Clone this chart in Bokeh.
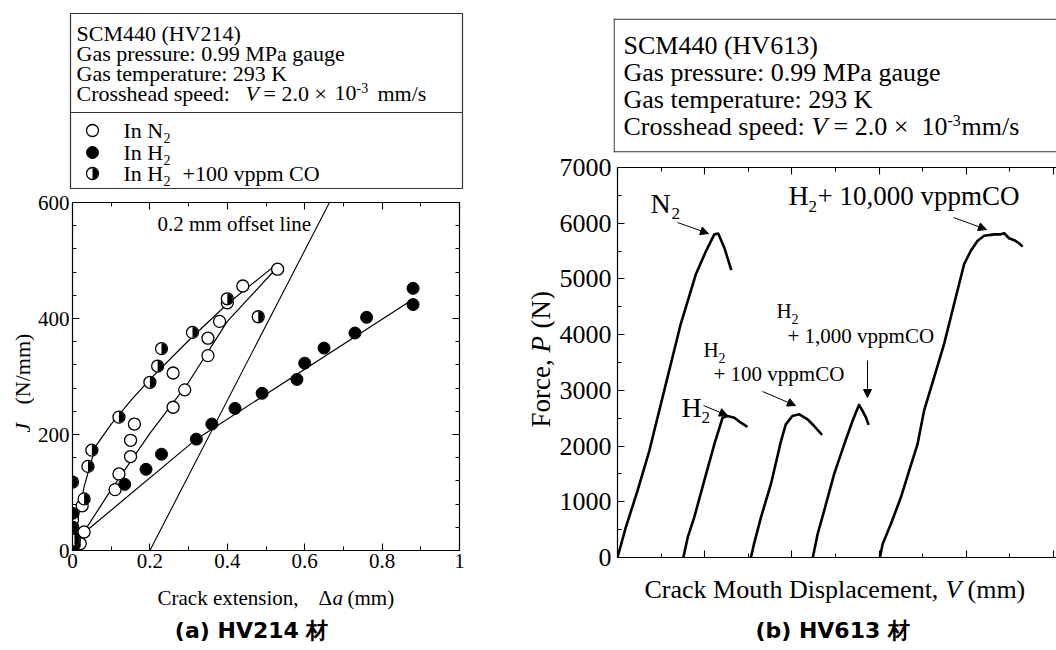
import math
from bokeh.plotting import figure
from bokeh.layouts import row, column
from bokeh.models import (Range1d, LinearAxis, SingleIntervalTicker, CustomJSTickFormatter,
                          Label, Arrow, NormalHead)
from bokeh.embed import file_html
from bokeh.resources import INLINE

# ---------------- data: (a) HV214, J vs crack extension ----------------
n2_da = [0.0, 0.0, 0.0, 0.02, 0.025, 0.03, 0.11, 0.12, 0.15, 0.15, 0.16, 0.26, 0.26, 0.29, 0.35, 0.35, 0.38, 0.40, 0.44, 0.53]
n2_j = [52, 40, 20, 12, 77, 32, 105, 132, 162, 190, 218, 247, 306, 277, 336, 366, 395, 427, 456, 485]

h2_da = [0.0, 0.0, 0.005, 0.135, 0.19, 0.23, 0.32, 0.36, 0.42, 0.49, 0.58, 0.60, 0.65, 0.73, 0.76, 0.88, 0.88]
h2_j = [64, 24, 10, 114, 140, 166, 192, 218, 245, 271, 295, 323, 349, 375, 402, 424, 452]

co_da = [0.0, 0.0, 0.005, 0.03, 0.04, 0.05, 0.12, 0.20, 0.22, 0.23, 0.31, 0.40, 0.48]
co_j = [118, 40, 18, 89, 145, 173, 230, 290, 318, 348, 376, 434, 403]

fit_co_da = [0.0, 0.01, 0.03, 0.06, 0.10, 0.15, 0.20, 0.30, 0.40, 0.53]
fit_co_j = [5, 40, 110, 180, 218, 258, 295, 362, 425, 495]
fit_n2_da = [0.015, 0.10, 0.20, 0.30, 0.40, 0.533]
fit_n2_j = [17, 105, 202, 290, 395, 491]
fit_h2_da = [0.02, 0.32, 0.88]
fit_h2_j = [25, 192, 433]
offset_da = [0.2, 0.664]
offset_j = [0, 600]

# ---------------- data: (b) HV613, force vs crack mouth displacement ----------------
v_n2 = [0, 0.19, 0.46, 0.73, 1.07, 1.45, 1.80, 2.03, 2.22, 2.31, 2.45, 2.61]
p_n2 = [0, 540, 1200, 1915, 2990, 4190, 5090, 5500, 5800, 5815, 5560, 5160]
v_h2 = [1.51, 1.61, 1.76, 1.99, 2.22, 2.41, 2.52, 2.68, 2.83, 2.98]
p_h2 = [0, 360, 720, 1380, 2030, 2510, 2540, 2510, 2420, 2345]
v_co100 = [3.06, 3.13, 3.29, 3.52, 3.75, 3.86, 4.01, 4.17, 4.36, 4.51, 4.69]
p_co100 = [0, 240, 720, 1320, 2090, 2390, 2540, 2570, 2480, 2360, 2200]
v_co1000 = [4.48, 4.59, 4.74, 4.97, 5.20, 5.39, 5.54, 5.62, 5.70, 5.76]
p_co1000 = [0, 420, 840, 1500, 2030, 2450, 2740, 2630, 2510, 2380]
v_co10000 = [6.02, 6.08, 6.27, 6.50, 6.69, 6.88, 7.03, 7.26, 7.49, 7.72, 7.95, 8.10, 8.26,
             8.41, 8.64, 8.79, 8.87, 8.98, 9.10, 9.21, 9.29]
p_co10000 = [0, 240, 600, 1080, 1560, 2030, 2630, 3230, 3830, 4550, 5265, 5500, 5685,
             5775, 5800, 5800, 5820, 5730, 5695, 5640, 5580]

left_info = ["SCM440 (HV214)", "Gas pressure: 0.99 MPa gauge", "Gas temperature: 293 K"]
right_info = ["SCM440 (HV613)", "Gas pressure: 0.99 MPa gauge", "Gas temperature: 293 K"]

SERIF = "Liberation Serif"
SANS = "DejaVu Sans"
INK = "black"
BOX = "#333333"
MID = 0.34  # em offset between the alphabetic baseline and the middle of the text


def lab(p, conv, px, py, text, size, style="normal", align="left", font=SERIF):
    """Text whose alphabetic baseline sits at page position (px, py)."""
    x, y = conv(px, py - MID * size)
    p.add_layout(Label(x=x, y=y, text=text, text_font=font, text_font_size=f"{size}px",
                       text_font_style=style, text_align=align, text_baseline="middle",
                       text_color=INK))


def vlab(p, conv, px, py, text, size, style="normal"):
    """Text rotated to read upwards, centred on page column px, starting at page row py."""
    x, y = conv(px, py)
    p.add_layout(Label(x=x, y=y, text=text, text_font=SERIF, text_font_size=f"{size}px",
                       text_font_style=style, text_align="left", text_baseline="middle",
                       angle=math.pi / 2, text_color=INK))


def axis(ticker, labeled, size=21, standoff=4, formatter=None):
    ax = LinearAxis(ticker=ticker, major_tick_in=7, major_tick_out=0, minor_tick_in=4,
                    minor_tick_out=0, axis_line_color=INK, axis_line_width=1.2,
                    major_tick_line_color=INK, minor_tick_line_color=INK,
                    major_tick_line_width=1.1, minor_tick_line_width=1.0)
    if labeled:
        ax.major_label_text_font = SERIF
        ax.major_label_text_font_size = f"{size}px"
        ax.major_label_text_color = INK
        ax.major_label_standoff = standoff
        if formatter is not None:
            ax.formatter = formatter
    else:
        ax.formatter = CustomJSTickFormatter(code="return ''")
        ax.major_label_text_font_size = "0px"
        ax.major_label_standoff = 0
    return ax


def half_marker(p, xs, ys, r=6):
    p.scatter(xs, ys, marker="circle", size=2 * r, fill_color="white", line_color=INK, line_width=1.3)
    p.wedge(x=xs, y=ys, radius=r - 0.5, radius_units="screen", start_angle=-math.pi / 2,
            end_angle=math.pi / 2, fill_color=INK, line_color=None)


def tfig(ox, oy, w, h, left=2, right=2, top=2, bottom=2):
    """Figure whose frame coordinates are page pixels offset by the frame origin."""
    fw, fh = w - left - right, h - top - bottom
    f = figure(width=w, height=h, x_range=Range1d(0, fw), y_range=Range1d(fh, 0),
               x_axis_type=None, y_axis_type=None, title=None, toolbar_location=None,
               output_backend="svg", min_border_left=left, min_border_right=right,
               min_border_top=top, min_border_bottom=bottom)
    f.outline_line_color = None
    fx, fy = ox + left, oy + top
    return f, (lambda px, py: (px - fx, py - fy)), fw, fh


# ======================= (a) legend box: page x 0..518, y 0..190 =======================
legL, LL, lw, lh = tfig(0, 0, 518, 190, left=70, right=56, top=13, bottom=2)
legL.outline_line_color = BOX
legL.outline_line_width = 1.2

for i, t in enumerate(left_info):
    lab(legL, LL, 76, 40 + 20 * i, t, 22)
lab(legL, LL, 76, 100, "Crosshead speed:", 22)
lab(legL, LL, 245, 100, "V", 22, style="italic")
lab(legL, LL, 263, 100, "= 2.0 \u00d7", 22)
lab(legL, LL, 334, 100, "10", 22)
lab(legL, LL, 356, 92, "-3", 14)
lab(legL, LL, 377, 100, "mm/s", 22)
legL.line([0, lw], [LL(0, 112)[1]] * 2, line_color=BOX, line_width=1.2)

mx = LL(92, 0)[0]
legL.scatter([mx], [LL(0, 130)[1]], marker="circle", size=12, fill_color="white", line_color=INK, line_width=1.3)
legL.scatter([mx], [LL(0, 152)[1]], marker="circle", size=12, fill_color=INK, line_color=INK)
half_marker(legL, [mx], [LL(0, 173)[1]])
lab(legL, LL, 123, 137, "In N", 22)
lab(legL, LL, 163, 142, "2", 14)
lab(legL, LL, 123, 159, "In H", 22)
lab(legL, LL, 163, 164, "2", 14)
lab(legL, LL, 123, 180, "In H", 22)
lab(legL, LL, 163, 185, "2", 14)
lab(legL, LL, 182, 180, "+100 vppm CO", 22)

# ======================= (a) y label strip: page x 0..34, y 190..580 =======================
yLabL, YL, _, _ = tfig(0, 190, 34, 390, left=0, right=0, top=12, bottom=30)
vlab(yLabL, YL, 22, 432, "J", 22, style="italic")
vlab(yLabL, YL, 22, 404, "(N/mm)", 22)

# ======================= (a) plot: page x 34..518, y 190..580 =======================
FX0, FX1, FY0, FY1 = 72, 459, 202, 550
pL = figure(width=484, height=390, x_range=Range1d(0, 1), y_range=Range1d(0, 600),
            x_axis_type=None, y_axis_type=None, title=None, toolbar_location=None,
            output_backend="svg", min_border_left=38, min_border_right=59,
            min_border_top=12, min_border_bottom=30)
pL.outline_line_color = None


def L(px, py):
    return (px - FX0) / (FX1 - FX0), (FY1 - py) / (FY1 - FY0) * 600


xt = SingleIntervalTicker(interval=0.2, num_minor_ticks=2)
yt = SingleIntervalTicker(interval=200, num_minor_ticks=5)
pL.add_layout(axis(xt, True, 21, 3, CustomJSTickFormatter(code="return String(Math.round(tick*10)/10)")), "below")
pL.add_layout(axis(yt, True, 21, 3), "left")
pL.add_layout(axis(xt, False), "above")
pL.add_layout(axis(yt, False), "right")

pL.line(offset_da, offset_j, line_color=INK, line_width=1.1)
pL.line(fit_co_da, fit_co_j, line_color=INK, line_width=1.2)
pL.line(fit_n2_da, fit_n2_j, line_color=INK, line_width=1.2)
pL.line(fit_h2_da, fit_h2_j, line_color=INK, line_width=1.2)

pL.scatter(n2_da, n2_j, marker="circle", size=12, fill_color="white", line_color=INK, line_width=1.3)
pL.scatter(h2_da, h2_j, marker="circle", size=12, fill_color=INK, line_color=INK)
half_marker(pL, co_da, co_j)

lab(pL, L, 157, 231, "0.2 mm offset line", 21)

# ======================= (a) bottom strip: page x 0..518, y 580..648 =======================
# borders equal to the legend box so the column keeps the same frame alignment
botL, BL, _, _ = tfig(0, 580, 518, 68, left=70, right=56, top=2, bottom=2)
lab(botL, BL, 157, 605, "Crack extension,", 21)
lab(botL, BL, 318, 605, "\u0394", 21)
lab(botL, BL, 332, 605, "a", 21, style="italic")
lab(botL, BL, 347, 605, "(mm)", 21)
lab(botL, BL, 255, 637, "(a)  HV214 \u6750", 22, style="bold", align="center", font=SANS)

# ======================= (b) legend box: page x 518..1056, y 0..154 =======================
legR, RL, rw, rh = tfig(518, 0, 538, 154, left=95, right=0, top=18, bottom=2)
legR.multi_line([[0, rw], [0.6, 0.6], [0, rw]], [[0.6, 0.6], [0, rh], [rh - 0.6, rh - 0.6]],
                line_color=BOX, line_width=1.2)
for i, t in enumerate(right_info):
    lab(legR, RL, 623, 54 + 27 * i, t, 26)
lab(legR, RL, 623, 135, "Crosshead speed:", 26)
lab(legR, RL, 811, 135, "V", 26, style="italic")
lab(legR, RL, 833, 135, "= 2.0 \u00d7", 26)
lab(legR, RL, 921, 135, "10", 26)
lab(legR, RL, 947, 125, "-3", 16)
lab(legR, RL, 961, 135, "mm/s", 26)

# ======================= (b) y label strip: page x 518..556, y 154..572 =======================
yLabR, YR, _, _ = tfig(518, 154, 38, 418, left=2, right=2, top=13, bottom=15)
vlab(yLabR, YR, 540, 427, "Force,", 27)
vlab(yLabR, YR, 540, 352, "P", 27, style="italic")
vlab(yLabR, YR, 540, 328, "(N)", 27)

# ======================= (b) plot: page x 556..1056, y 154..572 =======================
GX0, GY0, GY1 = 617, 167, 557
UNIT = 43.6
pR = figure(width=500, height=418, x_range=Range1d(0, 439 / UNIT), y_range=Range1d(0, 7000),
            x_axis_type=None, y_axis_type=None, title=None, toolbar_location=None,
            output_backend="svg", min_border_left=61, min_border_right=0,
            min_border_top=13, min_border_bottom=15)
pR.outline_line_color = None


def R(px, py):
    return (px - GX0) / UNIT, (GY1 - py) / (GY1 - GY0) * 7000


vt = SingleIntervalTicker(interval=2, num_minor_ticks=2)
ft = SingleIntervalTicker(interval=1000, num_minor_ticks=2)
pR.add_layout(axis(vt, False), "below")
pR.add_layout(axis(ft, True, 26, 6), "left")
pR.add_layout(axis(vt, False), "above")

for vx, py_ in [(v_n2, p_n2), (v_h2, p_h2), (v_co100, p_co100), (v_co1000, p_co1000),
                (v_co10000, p_co10000)]:
    pR.line(vx, py_, line_color=INK, line_width=2.6, line_join="round")

lab(pR, R, 650, 213, "N", 28)
lab(pR, R, 671, 219, "2", 17)
lab(pR, R, 788, 205, "H", 28)
lab(pR, R, 808, 212, "2", 17)
lab(pR, R, 817, 205, "+ 10,000 vppmCO", 27)
lab(pR, R, 776, 318, "H", 21)
lab(pR, R, 791, 323, "2", 14)
lab(pR, R, 787, 343, "+ 1,000 vppmCO", 21)
lab(pR, R, 703, 357, "H", 21)
lab(pR, R, 718, 362, "2", 14)
lab(pR, R, 713, 381, "+ 100 vppmCO", 21)
lab(pR, R, 681, 417, "H", 28)
lab(pR, R, 701, 423, "2", 17)

for (x0, y0, x1, y1) in [(677, 222, 708, 233), (953, 217, 986, 229), (867, 360, 867, 397),
                         (762, 391, 795, 405), (703, 405, 727, 415)]:
    a0 = R(x0, y0)
    a1 = R(x1, y1)
    pR.add_layout(Arrow(end=NormalHead(size=8, fill_color=INK, line_color=INK),
                        x_start=a0[0], y_start=a0[1], x_end=a1[0], y_end=a1[1],
                        line_color=INK, line_width=1.0))

# ======================= (b) bottom strip: page x 518..1056, y 572..648 =======================
botR, BR, _, _ = tfig(518, 572, 538, 76, left=95, right=0, top=2, bottom=2)
lab(botR, BR, 644, 598, "Crack Mouth Displacement,", 26)
lab(botR, BR, 945, 598, "V", 26, style="italic")
lab(botR, BR, 967, 598, "(mm)", 26)
lab(botR, BR, 836, 637, "(b)  HV613 \u6750", 22, style="bold", align="center", font=SANS)

layout = row(column(legL, row(yLabL, pL), botL), column(legR, row(yLabR, pR), botR))
open("out.html", "w").write(file_html(layout, INLINE))
